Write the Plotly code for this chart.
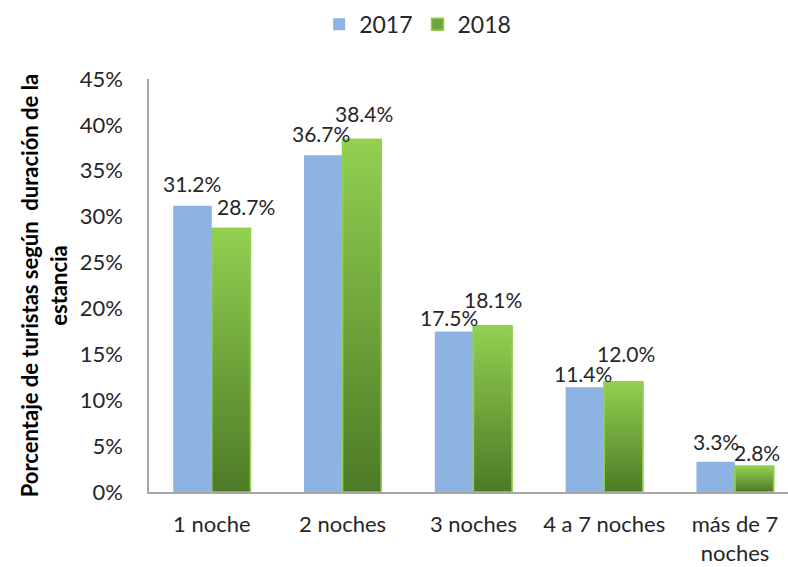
import plotly.graph_objects as go

# Share of tourists by length of stay (percent)
categories = ["1 noche", "2 noches", "3 noches", "4 a 7 noches", "más de 7<br>noches"]
series_names = ["2017", "2018"]
values_2017 = [31.2, 36.7, 17.5, 11.4, 3.3]
values_2018 = [28.7, 38.4, 18.1, 12.0, 2.8]
y_ticks = [0, 5, 10, 15, 20, 25, 30, 35, 40, 45]
y_tick_labels = [f"{t}%" for t in y_ticks]

BLUE = "#8DB3E2"
GREEN_TOP = "#92D050"
GREEN_BOTTOM = "#4D7A26"
FONT = "Lato"
TEXT_COLOR = "#262626"

BARGAP = 0.41
bar_w = (1 - BARGAP) / 2          # width of one bar in axis units
xs = list(range(len(categories)))

# label nudges (pixels) so neighbouring value labels stay readable
label_dy_2017 = [22, 22, 14, 14, 20]
label_dy_2018 = [22, 26, 26, 28, 14]
label_dx_2017 = [0, -2, -5, -2, 0]
label_dx_2018 = [15, 2, 0, 2, 3]

fig = go.Figure()
fig.add_trace(go.Bar(
    x=[i - bar_w / 2 for i in xs], y=values_2017, width=bar_w,
    name=series_names[0], marker=dict(color=BLUE, line=dict(width=0)),
))
fig.add_trace(go.Bar(
    x=[i + bar_w / 2 for i in xs], y=values_2018, width=bar_w,
    name=series_names[1], marker=dict(color="#6FA63A", line=dict(color=GREEN_TOP, width=1.5)),
))

# vertical gradient fill over each 2018 bar
for i, v in zip(xs, values_2018):
    fig.add_trace(go.Scatter(
        x=[i, i + bar_w, i + bar_w, i, i], y=[0, 0, v, v, 0],
        mode="lines", fill="toself",
        fillgradient=dict(type="vertical",
                          colorscale=[[0, GREEN_BOTTOM], [1, GREEN_TOP]]),
        line=dict(color=GREEN_TOP, width=1.5),
        showlegend=False, hoverinfo="skip",
    ))

label_font = dict(family=FONT, size=21, color=TEXT_COLOR)
annotations = []
for i, v, dx, dy in zip(xs, values_2017, label_dx_2017, label_dy_2017):
    annotations.append(dict(x=i - bar_w / 2, y=v, text=f"{v:.1f}%", showarrow=False,
                            xshift=dx, yshift=dy, yanchor="middle", font=label_font))
for i, v, dx, dy in zip(xs, values_2018, label_dx_2018, label_dy_2018):
    annotations.append(dict(x=i + bar_w / 2, y=v, text=f"{v:.1f}%", showarrow=False,
                            xshift=dx, yshift=dy, yanchor="middle", font=label_font))

fig.update_layout(
    width=788, height=567,
    margin=dict(l=149, r=0, t=79, b=75),
    paper_bgcolor="white", plot_bgcolor="white",
    barmode="overlay",
    font=dict(family=FONT, size=22, color=TEXT_COLOR),
    annotations=annotations,
    legend=dict(orientation="h", xref="container", yref="container",
                x=0.53, xanchor="center", y=0.995, yanchor="top",
                font=dict(family=FONT, size=23, color=TEXT_COLOR),
                itemwidth=30, traceorder="normal"),
    xaxis=dict(
        range=[-0.48, 4.405], tickmode="array", tickvals=xs, ticktext=categories,
        showgrid=False, zeroline=False, showline=True, linecolor="#A6A6A6", linewidth=1.5,
        ticks="", ticklabelstandoff=12,
        tickfont=dict(family=FONT, size=22, color=TEXT_COLOR),
    ),
    yaxis=dict(
        range=[0, 45], tickmode="array", tickvals=y_ticks, ticktext=y_tick_labels,
        showgrid=False, zeroline=False, showline=True, linecolor="#A6A6A6", linewidth=1.5,
        ticks="", ticklabelstandoff=20,
        tickfont=dict(family=FONT, size=22, color=TEXT_COLOR),
        title=dict(text="Porcentaje de turistas según  duración de la<br>estancia",
                   font=dict(family=FONT, size=22, color="black", weight="bold"),
                   standoff=6),
    ),
)

fig.write_html("out.html")
